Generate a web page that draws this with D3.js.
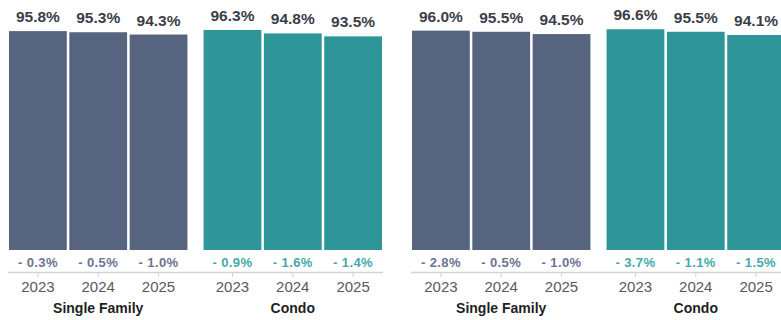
<!DOCTYPE html>
<html>
<head>
<meta charset="utf-8">
<script src="https://cdn.jsdelivr.net/npm/d3@7"></script>
<style>
  html, body { margin: 0; padding: 0; background: #fff; }
  svg { display: block; }
  text { font-family: "Liberation Sans", Arial, Helvetica, sans-serif; }
</style>
</head>
<body>
<svg id="chart" width="781" height="320"></svg>
<script>
// Categories
const years = ["2023", "2024", "2025"];
const groups = ["Single Family", "Condo"];

// First period: sale-to-list ratio (%) and year-over-year change
const sfValuesA = [95.8, 95.3, 94.3];
const sfChangeA = [-0.3, -0.5, -1.0];
const condoValuesA = [96.3, 94.8, 93.5];
const condoChangeA = [-0.9, -1.6, -1.4];

// Second period
const sfValuesB = [96.0, 95.5, 94.5];
const sfChangeB = [-2.8, -0.5, -1.0];
const condoValuesB = [96.6, 95.5, 94.1];
const condoChangeB = [-3.7, -1.1, -1.5];

const panels = [
  { x0: 9, x1: 382, series: [
    { group: "Single Family", values: sfValuesA, change: sfChangeA },
    { group: "Condo", values: condoValuesA, change: condoChangeA } ] },
  { x0: 412, x1: 785, series: [
    { group: "Single Family", values: sfValuesB, change: sfChangeB },
    { group: "Condo", values: condoValuesB, change: condoChangeB } ] }
];

const barColor = { "Single Family": "#56647f", "Condo": "#2e9698" };
const changeColor = { "Single Family": "#6b7390", "Condo": "#45aaa9" };

const svg = d3.select("#chart");
const y = d3.scaleLinear().domain([0, 100]).range([250, 21.5]);
const fmtVal = d => d.toFixed(1) + "%";
const fmtChg = d => (d < 0 ? "- " : "+ ") + Math.abs(d).toFixed(1) + "%";

panels.forEach(p => {
  const gx = d3.scaleBand().domain(groups).range([p.x0, p.x1]).paddingInner(0.083);
  const xx = d3.scaleBand().domain(years).range([0, gx.bandwidth()]).paddingInner(0.042);
  const g = svg.append("g");

  // baseline axis
  g.append("line")
    .attr("x1", p.x0 - 1).attr("x2", p.x1 + 1)
    .attr("y1", 272.5).attr("y2", 272.5)
    .attr("stroke", "#d4d4d8").attr("stroke-width", 1.5);

  p.series.forEach(s => {
    const sg = g.append("g").attr("transform", `translate(${gx(s.group)},0)`);
    const rows = years.map((yr, i) => ({ yr, v: s.values[i], c: s.change[i] }));

    sg.selectAll("rect").data(rows).join("rect")
      .attr("x", d => xx(d.yr))
      .attr("width", xx.bandwidth())
      .attr("y", d => y(d.v))
      .attr("height", d => y(0) - y(d.v))
      .attr("fill", barColor[s.group]);

    sg.selectAll("text.val").data(rows).join("text").attr("class", "val")
      .attr("x", d => xx(d.yr) + xx.bandwidth() / 2)
      .attr("y", d => y(d.v) - 9)
      .attr("text-anchor", "middle")
      .attr("font-size", 15.5).attr("font-weight", "bold")
      .attr("fill", "#3b3e4a")
      .text(d => fmtVal(d.v));

    sg.selectAll("text.chg").data(rows).join("text").attr("class", "chg")
      .attr("x", d => xx(d.yr) + xx.bandwidth() / 2)
      .attr("y", 267)
      .attr("text-anchor", "middle")
      .attr("font-size", 13).attr("font-weight", "bold")
      .attr("letter-spacing", 0.4)
      .attr("fill", changeColor[s.group])
      .text(d => fmtChg(d.c));

    sg.selectAll("line.tick").data(rows).join("line").attr("class", "tick")
      .attr("x1", d => xx(d.yr) + xx.bandwidth() / 2)
      .attr("x2", d => xx(d.yr) + xx.bandwidth() / 2)
      .attr("y1", 273).attr("y2", 277)
      .attr("stroke", "#d4d4d8").attr("stroke-width", 1);

    sg.selectAll("text.yr").data(rows).join("text").attr("class", "yr")
      .attr("x", d => xx(d.yr) + xx.bandwidth() / 2)
      .attr("y", 292)
      .attr("text-anchor", "middle")
      .attr("font-size", 15)
      .attr("fill", "#585a62")
      .text(d => d.yr);

    sg.append("text")
      .attr("x", gx.bandwidth() / 2)
      .attr("y", 313)
      .attr("text-anchor", "middle")
      .attr("font-size", 14).attr("font-weight", "bold")
      .attr("fill", "#1e1f24")
      .text(s.group);
  });
});
</script>
</body>
</html>
